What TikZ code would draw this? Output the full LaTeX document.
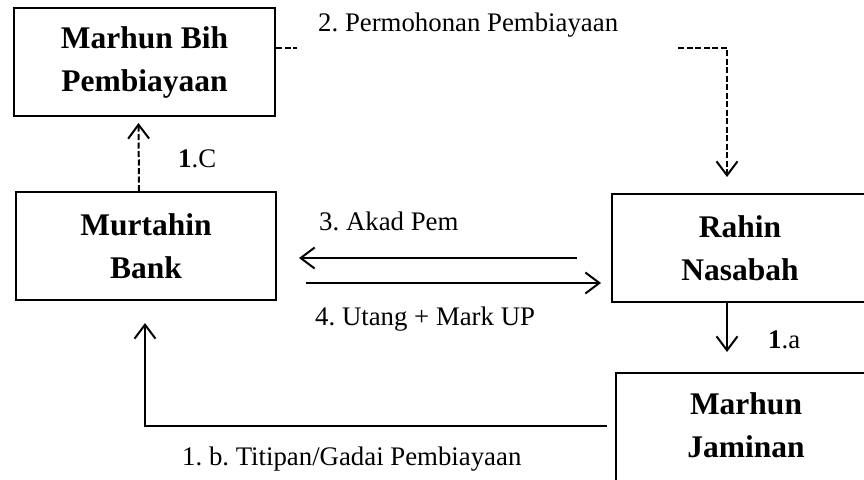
\documentclass[tikz,border=0pt]{standalone}
\usepackage{fontspec}
\setmainfont{Liberation Serif}
\usetikzlibrary{arrows.meta}
\frenchspacing
\tikzset{
  boxnode/.style={draw, line width=2pt, rectangle, align=center, inner sep=0pt,
     font=\fontsize{31.5}{43}\selectfont\bfseries},
  boxtext/.style={align=center, inner sep=0pt, font=\fontsize{31.5}{43}\selectfont\bfseries},
  lbl/.style={inner sep=0pt, anchor=base west, font=\fontsize{26.8}{32}\selectfont},
  arr/.style={line width=2pt, -{Straight Barb[length=14pt,width=21pt,line width=2pt]}},
  darr/.style={arr, dash pattern=on 6pt off 2.5pt},
  dline/.style={line width=2pt, dash pattern=on 6pt off 2.5pt}
}
\begin{document}
\begin{tikzpicture}[x=1pt,y=-1pt]
\useasboundingbox (0,0) rectangle (864,479);
\clip (0,0) rectangle (864,479);
% boxes
\node[boxnode, minimum width=261pt, minimum height=108pt] (bih) at (144.5,62) {Marhun Bih\\Pembiayaan};
\node[boxnode, minimum width=260pt, minimum height=108pt] (murt) at (146,246) {Murtahin\\Bank};
\node[boxnode, minimum width=256pt, minimum height=108pt] (rahin) at (740,248) {Rahin\\Nasabah};
\node[draw, line width=2pt, rectangle, minimum width=262pt, minimum height=130pt, anchor=north west, inner sep=0pt] (jam) at (615,372) {};
\node[boxtext] (jamtext) at (746,425) {Marhun\\Jaminan};
% 1.C dashed
\draw[darr] ([xshift=-7pt]murt.north) -- ([xshift=-6pt,yshift=-6pt]bih.south);
\node[lbl] (l1c) at (178,167) {\textbf{1}.C};
% 2 dashed
\coordinate (d2a) at (297,48);
\coordinate (d2b) at (678,48);
\coordinate (d2c) at (727,48);
\draw[dline] (bih.east |- d2a) -- (d2a);
\draw[darr] (d2b) -- (d2c) -- ([yshift=16pt]rahin.north -| d2c);
\node[lbl] (l2) at (318,31) {2. Permohonan Pembiayaan};
% 3 and 4
\draw[arr] ([shift={(-34,10)}]rahin.west) -- ([shift={(22,12)}]murt.east);
\draw[arr] ([shift={(29,37)}]murt.east) -- ([shift={(-10,35)}]rahin.west);
\node[lbl] (l3) at (319,230) {3. Akad Pem};
\node[lbl] (l4) at (315,325) {4. Utang + Mark UP};
% 1.a
\coordinate (c1a) at (727,352);
\draw[arr] (rahin.south -| c1a) -- (c1a);
\node[lbl] (l1a) at (768,348) {\textbf{1}.a};
% 1.b
\coordinate (c1b) at (607,426);
\draw[arr] (c1b) -| ([shift={(-1,22)}]murt.south);
\node[lbl] (l1b) at (182,465) {1. b. Titipan/Gadai Pembiayaan};
\end{tikzpicture}
\end{document}
